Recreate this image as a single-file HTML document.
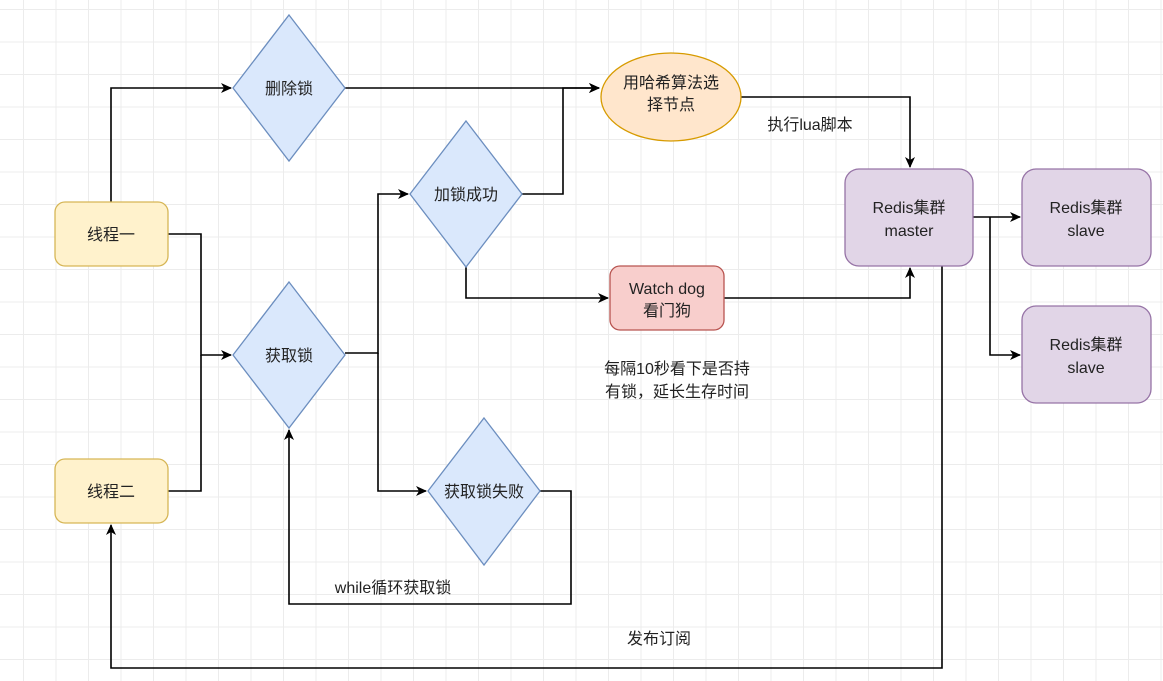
<!DOCTYPE html>
<html><head><meta charset="utf-8"><style>
body{margin:0;width:1163px;height:681px;overflow:hidden;background:#fff;
background-image:linear-gradient(#ececec 1px,transparent 1px),linear-gradient(90deg,#ececec 1px,transparent 1px);
background-size:32.5px 32.5px;background-position:23px 9px;}
svg{position:absolute;left:0;top:0}
text{font-family:"Liberation Sans","Noto Sans CJK SC",sans-serif;font-size:16px;fill:#222;text-anchor:middle}
</style></head><body>
<svg width="1163" height="681" viewBox="0 0 1163 681">
<defs><marker id="a" markerWidth="12" markerHeight="12" refX="10" refY="6" orient="auto" markerUnits="userSpaceOnUse"><path d="M0,1 L11,6 L0,11 L3,6Z" fill="#000"/></marker></defs>
<g fill="none" stroke="#000" stroke-width="1.6">
<path d="M111,202 V88 H231" marker-end="url(#a)"/>
<path d="M345,88 H599" marker-end="url(#a)"/>
<path d="M522,194 H563 V88 H599" marker-end="url(#a)"/>
<path d="M741,97 H910 V167" marker-end="url(#a)"/>
<path d="M168,234 H201 V355 H231" marker-end="url(#a)"/>
<path d="M168,491 H201 V355"/>
<path d="M345,353 H378 V194 H408" marker-end="url(#a)"/>
<path d="M378,353 V491 H426" marker-end="url(#a)"/>
<path d="M466,267 V298 H608" marker-end="url(#a)"/>
<path d="M724,298 H910 V268" marker-end="url(#a)"/>
<path d="M973,217 H1020" marker-end="url(#a)"/>
<path d="M990,217 V355 H1020" marker-end="url(#a)"/>
<path d="M942,266 V668 H111 V525" marker-end="url(#a)"/>
<path d="M540,491 H571 V604 H289 V430" marker-end="url(#a)"/>
</g>
<g stroke-width="1.3">
<rect x="55" y="202" width="113" height="64" rx="10" fill="#fff2cc" stroke="#d6b656"/>
<rect x="55" y="459" width="113" height="64" rx="10" fill="#fff2cc" stroke="#d6b656"/>
<path d="M289,15 L345,88 L289,161 L233,88Z" fill="#dae8fc" stroke="#6c8ebf"/>
<path d="M289,282 L345,355 L289,428 L233,355Z" fill="#dae8fc" stroke="#6c8ebf"/>
<path d="M466,121 L522,194 L466,267 L410,194Z" fill="#dae8fc" stroke="#6c8ebf"/>
<path d="M484,418 L540,491 L484,565 L428,491Z" fill="#dae8fc" stroke="#6c8ebf"/>
<ellipse cx="671" cy="97" rx="70" ry="44" fill="#ffe6cc" stroke="#d79b00"/>
<rect x="610" y="266" width="114" height="64" rx="10" fill="#f8cecc" stroke="#b85450"/>
<rect x="845" y="169" width="128" height="97" rx="14" fill="#e1d5e7" stroke="#9673a6"/>
<rect x="1022" y="169" width="129" height="97" rx="14" fill="#e1d5e7" stroke="#9673a6"/>
<rect x="1022" y="306" width="129" height="97" rx="14" fill="#e1d5e7" stroke="#9673a6"/>
</g>
<text x="111" y="240">线程一</text>
<text x="111" y="497">线程二</text>
<text x="289" y="94">删除锁</text>
<text x="289" y="361">获取锁</text>
<text x="466" y="200">加锁成功</text>
<text x="484" y="497">获取锁失败</text>
<text x="671" y="88">用哈希算法选</text>
<text x="671" y="110">择节点</text>
<text x="667" y="294">Watch dog</text>
<text x="667" y="316">看门狗</text>
<text x="909" y="213">Redis集群</text>
<text x="909" y="236">master</text>
<text x="1086" y="213">Redis集群</text>
<text x="1086" y="236">slave</text>
<text x="1086" y="350">Redis集群</text>
<text x="1086" y="373">slave</text>
<text x="810" y="130">执行lua脚本</text>
<text x="677" y="374">每隔10秒看下是否持</text>
<text x="677" y="397">有锁，延长生存时间</text>
<text x="393" y="593">while循环获取锁</text>
<text x="659" y="644">发布订阅</text>
</svg>
</body></html>
